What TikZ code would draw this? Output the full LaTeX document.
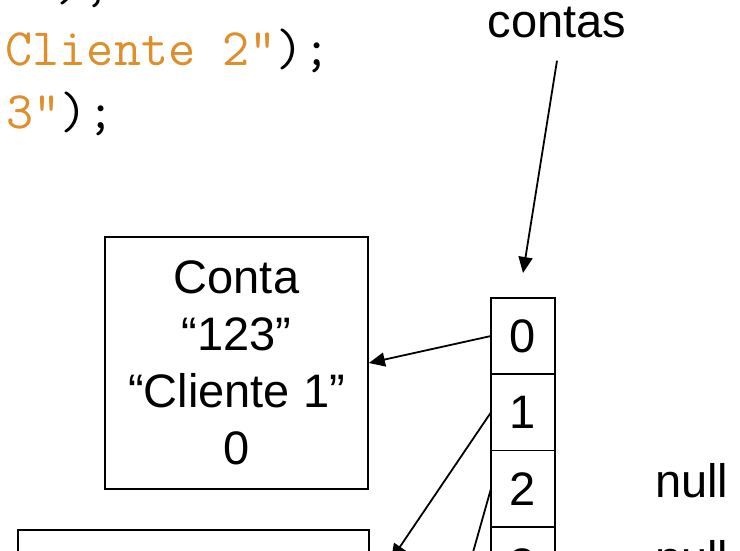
\documentclass[tikz,border=0pt]{standalone}
\usepackage{fontspec}
\setmainfont{Liberation Sans}
\usetikzlibrary{arrows.meta}
\definecolor{strorange}{RGB}{222,142,42}

\begin{document}
\begin{tikzpicture}[x=1pt,y=-1pt,
  txt/.style={font=\fontsize{47}{57}\selectfont, inner sep=0pt},
  code/.style={font=\ttfamily\fontsize{52.6}{63}\selectfont, inner sep=0pt, anchor=base west},
  objbox/.style={draw, line width=1.8pt, align=center, inner sep=0pt, font=\fontsize{47}{57}\selectfont},
  cell/.style={draw, line width=1.8pt, minimum width=64pt, minimum height=76.3pt, inner sep=0pt, outer sep=0pt, font=\fontsize{47}{57}\selectfont},
  ptr/.style={line width=1.8pt, -{Triangle[length=16pt,width=14pt]}}]
  \clip (0,0) rectangle (740,550);
  % code lines
  \node[code] (line1) at (2,0)    {\textcolor{strorange}{1"});};
  \node[code] (line2) at (-21.6,65) {\textcolor{strorange}{"Cliente 2"});};
  \node[code] (line3) at (6,128)  {\textcolor{strorange}{3"});};
  % array
  \node[txt, anchor=base] (contas) at (557,37) {contas};
  \node[cell] (c0) at (523,336)   {0};
  \node[cell] (c1) at (523,412.3) {1};
  \node[cell] (c2) at (523,488.6) {2};
  \node[cell] (c3) at (523,564.9) {3};
  \node[txt, anchor=base west] (null2) at (655,497) {null};
  \node[txt, anchor=base west] (null3) at (655,574) {null};
  % objects
  \node[objbox, minimum width=263pt, minimum height=252pt] (conta1) at (236.5,363) {Conta\\“123”\\“Cliente 1”\\0};
  \node[objbox, minimum width=351pt, minimum height=252pt] (conta2) at (193.5,656) {};
  \coordinate (c0top) at (523,273);
  \coordinate (p1) at (391,560);
  \coordinate (p2) at (468,570);
  \draw[ptr] ([yshift=-23pt]contas.south) -- (c0top);
  \draw[ptr] (c0.west) -- (conta1.east);
  \draw[ptr] (c1.west) -- (p1);
  \draw[ptr] (c2.west) -- (p2);
\end{tikzpicture}
\end{document}
